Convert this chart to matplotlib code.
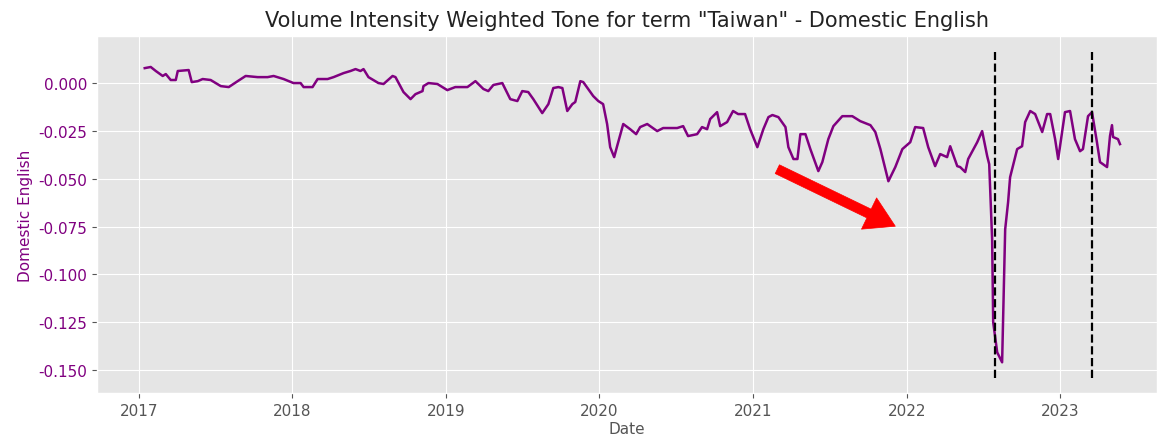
import pandas as pd
import numpy as np
import matplotlib
matplotlib.use('Agg')
import matplotlib.pyplot as plt

# decimal-year positions and tone values
years = [2017.039, 2017.078, 2017.111, 2017.156, 2017.176, 2017.208, 2017.241, 2017.254,
         2017.325, 2017.345, 2017.384, 2017.416, 2017.468, 2017.534, 2017.586, 2017.644,
         2017.696, 2017.774, 2017.839, 2017.878, 2017.943, 2018.008, 2018.054, 2018.074,
         2018.132, 2018.165, 2018.230, 2018.269, 2018.334, 2018.379, 2018.412, 2018.444,
         2018.464, 2018.496, 2018.561, 2018.594, 2018.653, 2018.672, 2018.724, 2018.770,
         2018.802, 2018.848, 2018.854, 2018.887, 2018.945, 2019.010, 2019.062, 2019.141,
         2019.193, 2019.245, 2019.277, 2019.310, 2019.368, 2019.420, 2019.466, 2019.498,
         2019.537, 2019.570, 2019.628, 2019.668, 2019.700, 2019.733, 2019.759, 2019.791,
         2019.824, 2019.843, 2019.876, 2019.895, 2019.960, 2019.993, 2020.025, 2020.051,
         2020.071, 2020.097, 2020.116, 2020.156, 2020.201, 2020.240, 2020.266, 2020.312,
         2020.377, 2020.416, 2020.507, 2020.546, 2020.578, 2020.637, 2020.669, 2020.702,
         2020.722, 2020.767, 2020.787, 2020.832, 2020.871, 2020.904, 2020.949, 2020.982,
         2021.027, 2021.066, 2021.099, 2021.125, 2021.164, 2021.210, 2021.229, 2021.262,
         2021.288, 2021.307, 2021.340, 2021.372, 2021.424, 2021.450, 2021.489, 2021.522,
         2021.580, 2021.645, 2021.697, 2021.763, 2021.795, 2021.828, 2021.880, 2021.925,
         2021.971, 2022.023, 2022.055, 2022.107, 2022.140, 2022.185, 2022.218, 2022.263,
         2022.283, 2022.329, 2022.348, 2022.381, 2022.400, 2022.459, 2022.491, 2022.524,
         2022.537, 2022.556, 2022.563, 2022.589, 2022.621, 2022.641, 2022.660, 2022.673,
         2022.719, 2022.751, 2022.771, 2022.804, 2022.836, 2022.882, 2022.914, 2022.934,
         2022.966, 2022.986, 2023.031, 2023.064, 2023.096, 2023.129, 2023.148, 2023.181,
         2023.207, 2023.239, 2023.259, 2023.305, 2023.324, 2023.337, 2023.344, 2023.376,
         2023.389]
tone = [0.0078, 0.0084, 0.0063, 0.0037, 0.0047, 0.0016, 0.0016, 0.0063,
        0.0068, 0.0005, 0.0010, 0.0021, 0.0016, -0.0016, -0.0021, 0.0010,
        0.0037, 0.0031, 0.0031, 0.0037, 0.0021, 0.0000, 0.0000, -0.0021,
        -0.0021, 0.0021, 0.0021, 0.0031, 0.0052, 0.0063, 0.0073, 0.0063,
        0.0073, 0.0031, 0.0000, -0.0005, 0.0037, 0.0031, -0.0047, -0.0084,
        -0.0058, -0.0042, -0.0016, 0.0000, -0.0005, -0.0037, -0.0021, -0.0021,
        0.0010, -0.0031, -0.0042, -0.0010, 0.0000, -0.0084, -0.0094, -0.0042,
        -0.0047, -0.0084, -0.0157, -0.0110, -0.0026, -0.0021, -0.0026, -0.0146,
        -0.0110, -0.0099, 0.0010, 0.0005, -0.0068, -0.0094, -0.0110, -0.0214,
        -0.0335, -0.0387, -0.0330, -0.0214, -0.0241, -0.0267, -0.0230, -0.0214,
        -0.0251, -0.0235, -0.0235, -0.0225, -0.0277, -0.0267, -0.0230, -0.0241,
        -0.0188, -0.0152, -0.0225, -0.0204, -0.0146, -0.0162, -0.0162, -0.0241,
        -0.0335, -0.0241, -0.0178, -0.0167, -0.0178, -0.0230, -0.0335, -0.0397,
        -0.0397, -0.0267, -0.0267, -0.0345, -0.0460, -0.0413, -0.0293, -0.0225,
        -0.0173, -0.0173, -0.0199, -0.0220, -0.0256, -0.0345, -0.0513, -0.0439,
        -0.0345, -0.0309, -0.0230, -0.0235, -0.0335, -0.0434, -0.0371, -0.0387,
        -0.0330, -0.0434, -0.0439, -0.0465, -0.0397, -0.0309, -0.0251, -0.0382,
        -0.0424, -0.0816, -0.1250, -0.1407, -0.1459, -0.0764, -0.0622, -0.0492,
        -0.0345, -0.0330, -0.0204, -0.0146, -0.0162, -0.0256, -0.0162, -0.0162,
        -0.0293, -0.0397, -0.0152, -0.0146, -0.0293, -0.0356, -0.0345, -0.0173,
        -0.0152, -0.0309, -0.0413, -0.0439, -0.0277, -0.0220, -0.0282, -0.0293,
        -0.0319]

event_years = [2022.576, 2023.207]
arrow_start = (2021.157, -0.0450)
arrow_tip = (2021.925, -0.0748)


def to_date(y):
    yr = int(np.floor(y))
    return pd.Timestamp(year=yr, month=1, day=1) + pd.Timedelta(days=(y - yr) * 365.25)


dates = [to_date(y) for y in years]

plt.style.use('ggplot')
fig = plt.figure(figsize=(11.57, 4.35), dpi=100)
ax = fig.add_axes([0.0838, 0.094, 0.9162, 0.821])

ax.plot(dates, tone, color='purple', linewidth=1.8)
ax.vlines([to_date(y) for y in event_years], ymin=-0.154, ymax=0.016,
          colors='black', linestyles='dashed', linewidth=1.6)

ax.annotate('', xy=(to_date(arrow_tip[0]), arrow_tip[1]),
            xytext=(to_date(arrow_start[0]), arrow_start[1]),
            arrowprops=dict(facecolor='red', edgecolor='red', width=7,
                            headwidth=25, headlength=21))

ax.set_xlim(to_date(2016.73), to_date(2023.63))
ax.set_ylim(-0.162, 0.0246)
ax.set_yticks([0.0, -0.025, -0.05, -0.075, -0.1, -0.125, -0.15])
ax.yaxis.set_major_formatter(matplotlib.ticker.FormatStrFormatter('%.3f'))
ax.tick_params(axis='y', labelcolor='purple', labelsize=11)
ax.tick_params(axis='x', labelsize=11)

ax.set_title('Volume Intensity Weighted Tone for term "Taiwan" - Domestic English',
             fontsize=15, color='#222222', pad=7)
ax.set_ylabel('Domestic English', color='purple', fontsize=11)
ax.set_xlabel('Date', fontsize=11, labelpad=2)

fig.savefig('out.png', dpi=100)
